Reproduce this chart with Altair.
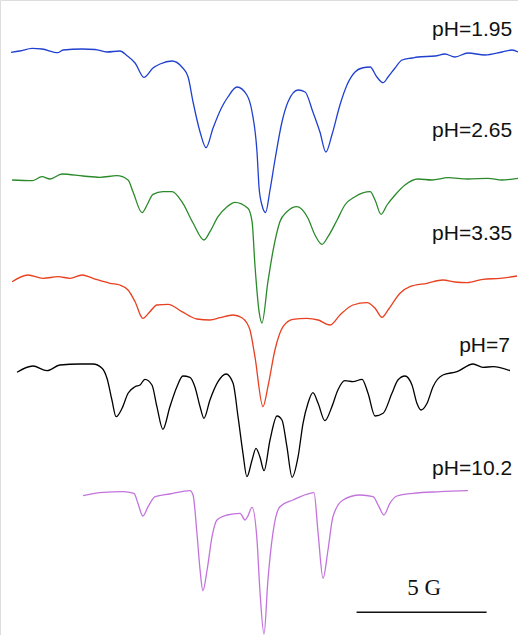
import altair as alt
import pandas as pd

# Field offset from spectrum centre (G) and signal (a.u.)
ph_labels = ["pH=1.95", "pH=2.65", "pH=3.35", "pH=7", "pH=10.2"]
trace_offsets = [583, 457, 357, 267, 142]
trace_colors = ["#2040d0", "#2a8a2a", "#e84020", "#000000", "#c374dc"]

blue_field = [-9.69, -9.35, -8.88, -8.5, -7.88, -7.69, -6.96, -6.46, -6.0, -5.5, -5.23, -4.92, -4.58, -4.23,
              -3.96, -3.5, -3.12, -2.88, -2.69, -2.42, -2.19, -1.92, -1.58, -1.35, -1.0, -0.62, -0.42, -0.23,
              -0.15, -0.04, 0.1, 0.27, 0.46, 0.73, 0.96, 1.35, 1.62, 1.92, 2.19, 2.42, 2.65, 2.96, 3.23, 3.54,
              3.81, 4.12, 4.38, 4.62, 4.81, 5.08, 5.35, 5.73, 5.96, 6.62, 7.0, 7.38, 7.88, 8.54, 9.19, 9.58, 9.81]
blue_signal = [-0.3, 1, 3.7, 3, -0.7, 2, 3, 2.5, 0, 1, -3.7, -11, -25.3, -16,
               -12, -9, -15, -25, -50, -80, -95.7, -76, -55, -45, -35, -43, -60, -100,
               -136, -153, -160.5, -138, -108, -70, -50, -38, -40, -60, -80, -100, -83, -53, -33, -20,
               -16, -15, -25, -30.7, -25, -16, -8, -6, -5, -4, -2, -5, -1, -3, 0, 2, 0]

green_field = [-9.65, -8.88, -8.5, -8.19, -7.73, -6.92, -6.27, -5.62, -5.19, -5.0, -4.65, -4.46, -4.23, -3.85,
               -3.5, -3.12, -2.69, -2.27, -2.04, -1.73, -1.38, -1.08, -0.58, -0.42, -0.31, -0.15, -0.04, 0.19,
               0.38, 0.65, 0.92, 1.31, 1.73, 2.0, 2.27, 2.5, 2.85, 3.15, 3.54, 4.12, 4.31, 4.54, 4.77, 5.08,
               5.46, 5.96, 6.5, 7.12, 7.88, 8.65, 9.19, 9.81]
green_signal = [-2, -2.7, 1.3, -1, 4, 2, 0.7, 2.3, -2, -13.7, -34.7, -27, -16.3, -13.7,
                -13.7, -23.7, -45, -62, -53.7, -38.7, -28.7, -24.3, -30.3, -43.7, -87, -133.7, -145, -103.7,
                -73.7, -43.7, -33.7, -28.7, -40.3, -57, -66.3, -58.7, -42, -27, -18.7, -13.7, -22, -36.3, -27, -17,
                -7, -1, -2, 0.3, -1, -0.3, -2, -0.3]

red_field = [-9.65, -9.04, -8.46, -7.88, -7.42, -6.96, -6.54, -5.88, -5.5, -5.19, -4.92, -4.62, -4.35, -4.08,
             -3.65, -3.12, -2.54, -2.04, -1.65, -1.15, -0.81, -0.62, -0.5, -0.31, 0.0, 0.19, 0.46, 0.77,
             1.15, 1.69, 2.12, 2.58, 2.96, 3.46, 4.0, 4.31, 4.58, 4.81, 5.27, 5.65, 6.31, 6.92, 7.38, 7.85,
             8.46, 9.12, 9.77]
red_signal = [-3.7, 3, -0.3, 1.3, -0.3, 3, -0.3, -5.3, -7, -12, -23.7, -40.3, -33.7, -27,
              -26.3, -33.7, -41, -42, -39.7, -37, -39.7, -45, -52, -78.7, -128.7, -108.7, -72, -48.7,
              -41.3, -40.3, -42, -47, -37, -27, -24.7, -30.3, -39.3, -32, -15.3, -8.7, -5.3, -2, -4, -4.7,
              -1.3, -0.3, 2]

black_field = [-9.46, -8.85, -8.31, -7.81, -7.04, -6.54, -6.19, -6.0, -5.81, -5.65, -5.42, -5.19, -4.92, -4.73,
               -4.54, -4.27, -4.08, -3.85, -3.58, -3.31, -3.08, -2.81, -2.62, -2.42, -2.27, -2.04, -1.73, -1.42,
               -1.15, -0.96, -0.77, -0.62, -0.42, -0.27, -0.12, 0.04, 0.27, 0.54, 0.73, 0.92, 1.12, 1.35,
               1.54, 1.73, 1.92, 2.12, 2.38, 2.65, 2.88, 3.15, 3.46, 3.81, 4.04, 4.31, 4.62, 4.96, 5.19,
               5.46, 5.73, 5.92, 6.08, 6.31, 6.54, 6.92, 7.46, 8.08, 8.46, 8.85, 9.5]
black_signal = [-4.3, 2, -2.7, 3, 4, 4, -0.3, -10.3, -32, -48.7, -40.3, -25.3, -18.7, -17,
                -11.3, -17, -38.7, -61.3, -38.7, -18.7, -8, -9.3, -18.7, -38.7, -50.3, -32, -13.7, -6,
                -15.3, -48.7, -85.3, -108.7, -92, -80.3, -88.7, -102.7, -72, -48, -52, -78.7, -109.3, -88.7,
                -55.3, -35.3, -24.7, -35.3, -52.7, -38.7, -22, -12.7, -13.7, -11.3, -25.3, -48, -45.3, -25.3, -12,
                -8, -17, -35.3, -42, -35.3, -18.7, -7, -3.7, 4, 0.7, 1.3, -2.7]

purple_field = [-6.92, -6.15, -5.38, -4.96, -4.81, -4.62, -4.42, -4.15, -3.58, -2.81, -2.69, -2.54, -2.42, -2.31,
                -2.15, -1.96, -1.77, -1.38, -0.88, -0.69, -0.58, -0.42, -0.23, -0.12, 0.04, 0.19, 0.38, 0.65,
                1.15, 1.81, 1.96, 2.12, 2.31, 2.5, 2.69, 3.08, 3.73, 4.23, 4.46, 4.65, 4.88, 5.15, 5.77,
                6.81, 7.88]
purple_signal = [-2.7, 0.7, 1.3, -0.3, -10.3, -23, -13.7, -3.7, -1, 2.3, -2, -40.3, -77, -97.7,
                 -77, -43.7, -27, -22, -20.3, -27, -23, -14.3, -47, -97, -141, -87, -40.3, -13.7,
                 -7, -0.3, 0.3, -40.3, -85.3, -57, -23.7, -7, -2, -3.7, -13.7, -22, -10.3, -3, -0.3,
                 1.3, 2.3]

label_field = [9.58, 9.58, 9.58, 9.5, 9.58]
label_y = [599.5, 498, 395, 283, 160]

scalebar_start = [3.6]
scalebar_end = [8.6]
scalebar_y = [22.7]
scalebar_label = ["5 G"]
scalebar_label_y = [40]

fields = [blue_field, green_field, red_field, black_field, purple_field]
signals = [blue_signal, green_signal, red_signal, black_signal, purple_signal]

rows = []
for lab, off, fs, ss in zip(ph_labels, trace_offsets, fields, signals):
    for i, (f, s) in enumerate(zip(fs, ss)):
        rows.append({"pH": lab, "field": f, "y": s + off, "order": i})
df = pd.DataFrame(rows)

labels_df = pd.DataFrame({"text": ph_labels, "field": label_field, "y": label_y})
bar_df = pd.DataFrame({"x": scalebar_start, "x2": scalebar_end, "y": scalebar_y})
bar_text_df = pd.DataFrame({"text": scalebar_label,
                            "x": [(a + b) / 2 + 0.1 for a, b in zip(scalebar_start, scalebar_end)],
                            "y": scalebar_label_y})

xs = alt.Scale(domain=[-10.115, 9.808], nice=False, zero=False)
ys = alt.Scale(domain=[0, 635], nice=False, zero=False)
color = alt.Color("pH:N", scale=alt.Scale(domain=ph_labels, range=trace_colors), legend=None)

lines = alt.Chart(df).mark_line(strokeWidth=1.3, interpolate="monotone").encode(
    x=alt.X("field:Q", scale=xs, axis=None),
    y=alt.Y("y:Q", scale=ys, axis=None),
    color=color,
    detail="pH:N",
    order="order:Q",
)

labels = alt.Chart(labels_df).mark_text(
    align="right", baseline="alphabetic", font="Liberation Sans", fontSize=21, color="#111111"
).encode(
    x=alt.X("field:Q", scale=xs, axis=None),
    y=alt.Y("y:Q", scale=ys, axis=None),
    text="text:N",
)

bar = alt.Chart(bar_df).mark_rule(strokeWidth=1.6, color="#111111").encode(
    x=alt.X("x:Q", scale=xs, axis=None),
    x2="x2:Q",
    y=alt.Y("y:Q", scale=ys, axis=None),
)

bar_text = alt.Chart(bar_text_df).mark_text(
    align="center", baseline="alphabetic", font="Liberation Serif", fontSize=23, color="#111111"
).encode(
    x=alt.X("x:Q", scale=xs, axis=None),
    y=alt.Y("y:Q", scale=ys, axis=None),
    text="text:N",
)

chart = alt.layer(lines, labels, bar, bar_text).properties(
    width=518, height=635, padding=0, autosize=alt.AutoSizeParams(type="none")
).configure_view(stroke=None).configure(background="white")

chart.save("out.html", embed_options={"renderer": "svg", "actions": False})
